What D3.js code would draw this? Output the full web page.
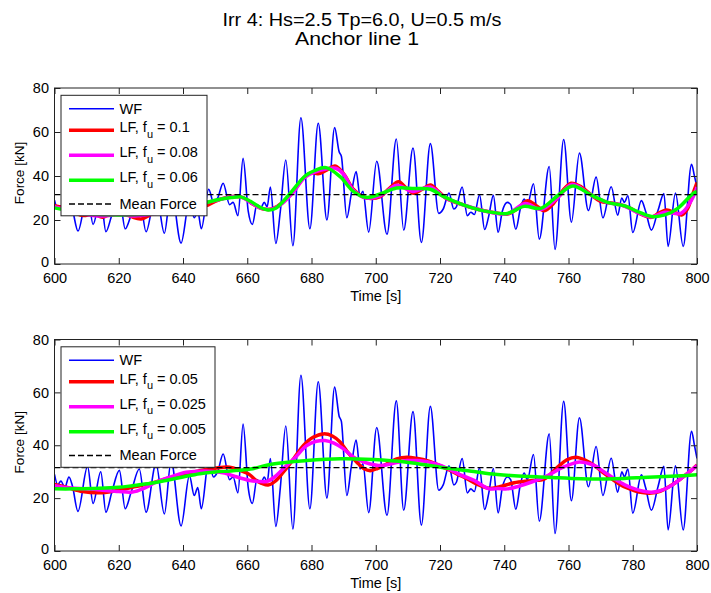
<!DOCTYPE html>
<html>
<head>
<meta charset="utf-8">
<script src="https://cdn.jsdelivr.net/npm/d3@7"></script>
<style>
  body { margin: 0; background: #fff; }
  text { font-family: "Liberation Sans", Arial, sans-serif; }
</style>
</head>
<body>
<script>
// WF (wave frequency) force at its turning points
const wfTime = [600,601,602,603.2,604.5,605.6,607.3,610.3,612,614.4,616,617.8,620.2,622,623.8,626.4,628.5,631.6,634.2,636.3,639.4,642,643.5,644.6,645.7,648,649.5,650.8,652.5,654.5,655.6,657.1,658.7,660.3,661.6,663,664.2,665.3,666.2,667.2,668.9,670.3,672,674.2,676.7,679.5,682.1,684.8,687.2,688.6,689.3,691,692.4,693.9,695.1,696,697.8,700.3,703.5,706.4,708.7,711.6,714.2,717,719.6,721,722.8,724.3,725.1,726.9,728.5,729.6,730.7,732.3,733.9,735.2,736.6,738.1,739.4,741,742,743.6,745,746.2,747.2,749.1,750.9,754,755.8,758.5,760.9,763.4,766.2,768.6,770.7,773.3,775.3,776.6,777.4,778.5,780,782.7,784,785.8,787.9,789.7,791,793.3,795.7,798.3,799.2,800];
const wfForce = [29,25,26.5,24,28,24.5,15,32,18,30,14.7,22,30.5,16,22,31,14.7,33,14,34,9.5,28.5,21,24,16,34,28,30,36.7,27,28,22,48,24,18,27,25.5,28,26,35,9.3,24,47.3,8.3,66.5,16,64,20,62,51,49,21,32,42,31,33,14.5,46.7,13.5,56.8,15.4,52.7,9.8,54.7,23,25,32.2,25,26,35,22,23.5,22.5,31.5,15.7,22,31.2,14.4,24,28,27,15.8,25,29.5,27,36.5,11.3,44.3,6.6,56.6,19,50.4,24.3,39.5,21,35.1,22.2,30,28,31,14.3,28.8,24,15.4,24.5,32,8,32.2,8,45.3,40,35];

// LF (low frequency) force, upper panel
const lfTop010 = [[600,26.5],[603,25.5],[606,23.5],[609,22],[612,22.8],[615,21.3],[618,23.5],[621,23.5],[624,21.5],[627,20.5],[630,22.5],[633,24.5],[636,23.5],[640,25],[644,27.5],[647,26.5],[650,28.5],[653,30],[656,30.8],[659,30],[662,27],[665,25],[668,25.2],[671,28],[674,32.5],[677.5,39],[680,41.5],[682,41],[684.5,42.5],[687.3,44.5],[690,41],[693,34],[696,30.5],[698.5,29.8],[701.4,30.6],[704,34],[707.1,37.4],[709.5,34.5],[711.8,32.2],[714.5,34],[717,35.9],[719.5,33],[722.2,29.5],[726,27.5],[730,25.5],[733,24.5],[736,23.5],[738.5,23],[741,22.7],[744,25],[747.2,28.8],[750,26.5],[752.5,24.2],[755,27],[758,33],[760.8,36.7],[764,35],[767,31.5],[770,28.5],[773,27.8],[776,27],[779,25.5],[782,23],[785.8,21.2],[788,23],[790.5,24.5],[793,23.5],[795.2,22.3],[797,25],[798.5,31],[800,37]];
const lfTop008 = [[600,26],[605,24.2],[610,22.5],[615,21.8],[620,22.6],[625,21.8],[630,22.6],[635,24],[640,25.3],[645,27.3],[650,28.8],[655,30.5],[658,30.5],[661,28],[664,25.5],[667,24.8],[670,26.5],[674,32],[678,39.5],[681,41.8],[684.5,43.2],[687.5,43.5],[690,40.8],[693,33.5],[697,30],[701.4,31],[706.5,35.8],[711.5,33],[717,35],[721.5,30.2],[726,27.5],[730.6,25.4],[735.3,23.6],[741,22.8],[746.5,27.5],[751.5,24.8],[756.6,30],[761,36.2],[767,31.4],[772,28],[777,26.6],[781.6,23.4],[785.8,21.4],[790,23.5],[795,23],[798.3,29],[800,35]];
const lfTop006 = [[600,25.5],[605,24],[610,23],[615,22.5],[620,22.3],[625,22.5],[630,23],[635,24],[640,25.5],[645,27],[650,29],[655,30.2],[658,30.5],[661,28.5],[664,25.8],[666.5,24.5],[669,25.5],[673,31.5],[678,40],[681,42.5],[684.5,43.8],[688.9,39.7],[693,33],[697,30.3],[701.4,31.8],[706.5,34.5],[712,34.3],[717,34],[721.2,30.6],[726.4,27.3],[730.6,25.3],[735.3,23.7],[741,23],[746.2,26.2],[751.4,25.3],[756.6,31],[761.3,35.5],[767,31.4],[772.2,28],[777.5,26.4],[781.6,23.8],[785.8,21.6],[790,22.3],[794,25.3],[798.3,31.4],[800,33]];

// LF force, lower panel
const lfBot005 = [[600,25.2],[604,24],[608.7,22.5],[613.9,22],[619,22.8],[624.3,24.1],[629.5,25.5],[634.7,27.3],[640,29],[645.2,30.4],[650,31.3],[654.5,31.7],[657.7,30.5],[660.8,28.8],[662.9,26.6],[666.5,25],[668.8,26.5],[671.2,29.8],[674.5,35],[677.5,39.9],[680.5,43],[683.7,44.3],[686.5,43.5],[688.9,41.2],[691.5,37],[694.1,33.6],[696.5,31],[698.3,30.4],[700.5,31.2],[703.5,33],[706.5,34.8],[709.7,35.5],[713,35],[716,34.2],[719,32.8],[722.2,31],[725.5,29],[728.5,27.3],[732,25],[735.3,23.7],[737.9,24.1],[743.1,25.8],[748.3,26.6],[752.5,27.3],[756.6,31.7],[759.5,34.5],[762.3,35.5],[765,34.5],[768.1,32.3],[771,29.5],[774.3,26.6],[777.5,24.2],[780.6,22.8],[783,22.1],[785.8,21.9],[788.5,22.6],[791,24.1],[793.5,26],[796.2,28.5],[798.5,30.8],[800,32.5]];
const lfBot0025 = [[600,24.7],[605,23.8],[610,23.5],[615,23],[620,22.5],[624.3,22.3],[628,23.8],[631.6,26],[636,28],[641,29.8],[645,30.2],[649.3,30.1],[653,29.5],[656,28.3],[660.8,26.7],[663.5,26.3],[666,26.3],[668.5,28],[671.2,31.1],[675,35.5],[678.5,39.9],[681.5,41.5],[684.2,41.8],[687,40.8],[690,38.6],[692.5,36],[695.2,34.2],[698,33],[701.4,32.3],[705,33],[709.7,34.2],[713,34.2],[716,33.8],[719,32.8],[722.2,31.3],[726,29],[730.6,26.7],[735.3,23.5],[738,23.6],[741,23.5],[744.5,24.5],[748.3,26],[753.5,28.5],[758,31.5],[762.9,33.6],[766,33.2],[768.1,32.3],[771,30],[774.3,27.3],[777.5,25],[780.6,23.5],[783,22.7],[785.8,22.2],[788.5,22.8],[791,24],[793.5,26],[796.2,28.5],[798.5,30.8],[800,32.3]];
const lfBot0005 = [[600,23.5],[606,23.5],[613.9,23.7],[620,24.1],[624.3,24.7],[630,25.6],[634.7,26.7],[640,28],[645.2,29.2],[650,29.9],[655,30.3],[661,31],[668,32.9],[678.5,34.2],[688.9,34.9],[699.3,34.6],[709.7,33.6],[720.2,31.7],[730.6,30.1],[735.3,29.2],[743.1,28.5],[753.5,27.9],[763.9,27.3],[774.3,27.3],[784.7,27.9],[795.2,28.5],[800,28.8]];

const meanForce = 31.5;
const xTicks = d3.range(600, 801, 20);
const yTicks = [0, 20, 40, 60, 80];
const topLabels = ['0.1', '0.08', '0.06'];
const botLabels = ['0.05', '0.025', '0.005'];
const lfColors = ['#ff0000', '#ff00ff', '#00ff00'];

const width = 711, height = 593;
const svg = d3.select('body').append('svg')
  .attr('width', width).attr('height', height);
svg.append('rect').attr('width', width).attr('height', height).attr('fill', '#fff');

const x = d3.scaleLinear().domain([600, 800]).range([54.5, 697]);
const wf = wfTime.map((t, i) => [t, wfForce[i]]);

svg.append('text').attr('x', 362).attr('y', 26).attr('text-anchor', 'middle')
  .attr('font-size', 19).attr('textLength', 279).attr('lengthAdjust', 'spacingAndGlyphs')
  .text('Irr 4: Hs=2.5 Tp=6.0, U=0.5 m/s');
svg.append('text').attr('x', 357).attr('y', 45).attr('text-anchor', 'middle')
  .attr('font-size', 19).attr('textLength', 124).attr('lengthAdjust', 'spacingAndGlyphs')
  .text('Anchor line 1');

function panel(id, top, bottom, lfs, labels, legW) {
  const y = d3.scaleLinear().domain([0, 80]).range([bottom, top]);
  const g = svg.append('g');

  g.append('clipPath').attr('id', id).append('rect')
    .attr('x', x(600)).attr('y', top).attr('width', x(800) - x(600)).attr('height', bottom - top);

  const line = d3.line().x(d => x(d[0])).y(d => y(d[1]));
  const plot = g.append('g').attr('clip-path', `url(#${id})`);

  plot.append('path').datum(wf)
    .attr('d', line.curve(d3.curveMonotoneX))
    .attr('fill', 'none').attr('stroke', '#0000ff').attr('stroke-width', 1.6);

  lfs.forEach((s, i) => {
    plot.append('path').datum(s)
      .attr('d', line.curve(d3.curveCatmullRom.alpha(0.5)))
      .attr('fill', 'none').attr('stroke', lfColors[i]).attr('stroke-width', 3.5)
      .attr('stroke-linejoin', 'round');
  });

  plot.append('line')
    .attr('x1', x(600)).attr('x2', x(800)).attr('y1', y(meanForce)).attr('y2', y(meanForce))
    .attr('stroke', '#000').attr('stroke-width', 1.3).attr('stroke-dasharray', '6,3');

  // axes, ticks inward on all four sides
  const ax = g.append('g');
  const fix = a => {
    a.select('.domain').remove();
    a.attr('font-size', 14.5).attr('color', '#222')
      .attr('font-family', '"Liberation Sans", Arial, sans-serif');
    a.selectAll('text').attr('fill', '#000');
  };
  ax.append('g').attr('transform', `translate(0,${bottom})`)
    .call(d3.axisBottom(x).tickValues(xTicks).tickSize(-6).tickSizeOuter(0).tickPadding(9)).call(fix);
  ax.append('g').attr('transform', `translate(0,${top})`)
    .call(d3.axisTop(x).tickValues(xTicks).tickSize(-6).tickSizeOuter(0).tickFormat('')).call(fix);
  ax.append('g').attr('transform', `translate(${x(600)},0)`)
    .call(d3.axisLeft(y).tickValues(yTicks).tickSize(-6).tickSizeOuter(0).tickPadding(5.5)).call(fix)
    .call(a => a.selectAll('text').filter(d => d === 0).attr('dy', '0.15em'));
  ax.append('g').attr('transform', `translate(${x(800)},0)`)
    .call(d3.axisRight(y).tickValues(yTicks).tickSize(-6).tickSizeOuter(0).tickFormat('')).call(fix);

  g.append('rect')
    .attr('x', x(600)).attr('y', top).attr('width', x(800) - x(600)).attr('height', bottom - top)
    .attr('fill', 'none').attr('stroke', '#222').attr('stroke-width', 1);

  g.append('text').attr('x', (x(600) + x(800)) / 2).attr('y', bottom + 37)
    .attr('text-anchor', 'middle').attr('font-size', 14.5).text('Time [s]');
  g.append('text')
    .attr('transform', `translate(24,${(top + bottom) / 2 - 3}) rotate(-90)`)
    .attr('text-anchor', 'middle').attr('font-size', 13.5).text('Force [kN]');

  // legend
  const lx = 61, ly = top + 7.3;
  const lg = g.append('g').attr('font-size', 14.5);
  lg.append('rect').attr('x', lx).attr('y', ly).attr('width', legW).attr('height', 120.5)
    .attr('fill', '#fff').attr('stroke', '#222').attr('stroke-width', 1);
  const rows = [13.4, 35, 60, 85, 108.7];
  const sample = (yy, color, w, dash) => lg.append('line')
    .attr('x1', 69).attr('x2', 114).attr('y1', ly + yy).attr('y2', ly + yy)
    .attr('stroke', color).attr('stroke-width', w).attr('stroke-dasharray', dash);

  sample(rows[0], '#0000ff', 1.6, null);
  lg.append('text').attr('x', 119.5).attr('y', ly + rows[0] + 4.8).text('WF');
  labels.forEach((lab, i) => {
    const yy = rows[i + 1];
    sample(yy, lfColors[i], 3.5, null);
    const t = lg.append('text').attr('x', 119.5).attr('y', ly + yy + 1.8);
    t.append('tspan').text('LF, f');
    t.append('tspan').attr('dy', 5.5).attr('font-size', 11).text('u');
    t.append('tspan').attr('dy', -5.5).text(' = ' + lab);
  });
  sample(rows[4], '#000', 1.3, '6,3');
  lg.append('text').attr('x', 119.5).attr('y', ly + rows[4] + 4.8).text('Mean Force');
}

panel('clipTop', 88, 264, [lfTop010, lfTop008, lfTop006], topLabels, 146);
panel('clipBot', 339.5, 551, [lfBot005, lfBot0025, lfBot0005], botLabels, 154);
</script>
</body>
</html>
